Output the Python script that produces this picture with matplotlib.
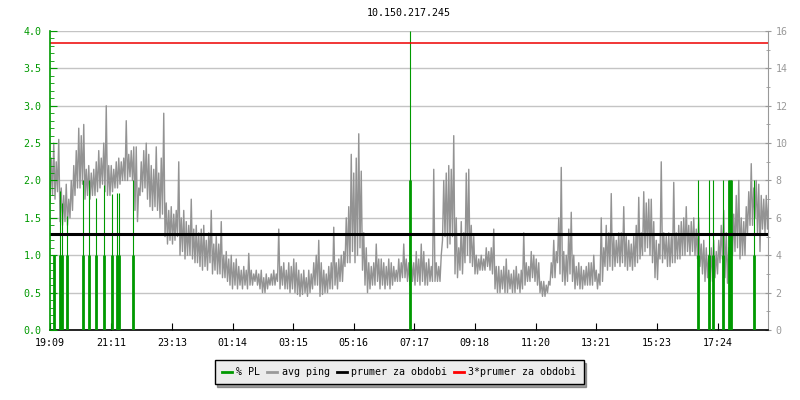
import numpy as np
import matplotlib.pyplot as plt
from matplotlib.lines import Line2D

# data
title = "10.150.217.245"
tick_minutes = [0, 122, 244, 365, 486, 607, 728, 849, 971, 1092, 1214, 1335]
tick_labels = ["19:09", "21:11", "23:13", "01:14", "03:15", "05:16",
               "07:17", "09:18", "11:20", "13:21", "15:23", "17:24"]

ping_lo = [
    6.8, 7.2, 7.0, 7.4, 5.8, 5.6, 5.8, 5.6, 6.0, 6.4, 7.2, 7.6,
    7.6, 7.8, 7.0, 7.2, 7.0, 7.2, 7.2, 7.4, 7.6, 7.8, 7.4, 7.2,
    7.2, 7.4, 7.6, 7.6, 7.8, 8.0, 8.0, 8.0, 8.2, 8.0, 6.4, 5.8,
    7.2, 7.4, 7.6, 7.0, 6.6, 6.4, 6.6, 6.4, 6.0, 6.2, 5.0, 4.6,
    4.8, 4.6, 4.8, 5.0, 4.0, 4.2, 3.8, 4.0, 4.0, 3.8, 3.6, 3.6,
    3.4, 3.2, 3.4, 3.2, 3.6, 3.0, 3.2, 3.0, 3.0, 2.8, 2.8, 2.6,
    2.4, 2.2, 2.4, 2.2, 2.4, 2.2, 2.4, 2.2, 2.4, 2.4, 2.6, 2.4,
    2.2, 2.0, 2.0, 2.2, 2.4, 2.4, 2.4, 2.6, 2.2, 2.4, 2.2, 2.2,
    2.0, 2.2, 2.0, 1.9, 1.8, 1.9, 2.0, 1.8, 2.0, 2.2, 2.4, 2.4,
    1.8, 1.9, 2.0, 2.0, 2.2, 2.2, 2.4, 2.2, 2.6, 2.6, 3.4, 3.6,
    3.6, 4.2, 3.6, 4.0, 4.4, 3.2, 2.4, 2.0, 2.2, 2.4, 2.4, 2.6,
    2.2, 2.4, 2.2, 2.4, 2.2, 2.4, 2.6, 2.6, 2.6, 2.8, 2.8, 2.6,
    2.4, 2.6, 2.4, 2.6, 2.4, 2.6, 2.4, 2.4, 2.6, 2.6, 2.6, 2.6,
    2.6, 4.8, 5.0, 4.4, 4.6, 5.0, 3.0, 2.8, 3.2, 3.0, 3.6, 4.0,
    3.6, 3.4, 3.0, 3.0, 3.2, 3.2, 3.2, 3.4, 3.2, 3.0, 2.2, 2.0,
    2.0, 2.2, 2.0, 2.0, 2.2, 2.0, 2.0, 2.2, 2.0, 2.2, 2.4, 2.6,
    2.6, 2.8, 2.6, 2.4, 2.0, 1.8, 1.8, 2.0, 2.4, 2.8, 2.8, 3.6,
    3.0, 2.6, 2.4, 2.6, 3.0, 2.6, 2.2, 2.4, 2.2, 2.2, 2.4, 2.4,
    2.4, 2.4, 2.6, 2.2, 2.4, 2.6, 3.4, 3.2, 3.4, 3.2, 3.4, 3.6,
    3.4, 3.6, 3.4, 3.2, 3.4, 3.2, 3.4, 3.6, 3.8, 4.0, 4.2, 4.4,
    4.0, 3.6, 2.8, 2.7, 3.8, 3.6, 3.8, 3.4, 3.4, 3.6, 3.6, 3.8,
    3.8, 4.0, 4.0, 4.2, 4.0, 4.2, 4.0, 3.8, 3.4, 3.0, 2.6, 2.8,
    2.6, 2.6, 2.8, 3.0, 3.6, 3.8, 2.8, 2.5, 3.8, 4.0, 4.2, 4.4,
    3.8, 4.0, 4.0, 5.2, 5.6, 5.6, 6.0, 5.2, 4.2, 5.4, 5.2, 5.4,
]
ping_hi = [
    9.2, 10.0, 9.0, 10.2, 7.6, 7.2, 7.8, 7.0, 8.0, 8.8, 9.6, 10.8,
    10.4, 11.0, 8.6, 8.8, 8.4, 8.6, 9.0, 9.6, 9.2, 10.0, 12.0, 8.8,
    8.8, 8.6, 9.0, 9.2, 9.0, 9.2, 11.2, 9.4, 9.6, 9.8, 9.8, 7.6,
    9.0, 9.6, 10.0, 9.4, 8.8, 8.6, 9.8, 8.4, 9.2, 11.6, 6.8, 6.4,
    6.6, 6.2, 6.4, 9.0, 6.0, 6.4, 5.8, 5.6, 7.0, 5.4, 5.6, 5.2,
    5.4, 5.6, 4.8, 5.2, 6.4, 4.6, 5.0, 4.6, 5.8, 4.0, 4.2, 3.8,
    4.0, 3.6, 3.8, 3.4, 3.2, 3.4, 3.2, 4.1, 3.2, 3.0, 3.2, 3.0,
    3.2, 2.8, 3.0, 2.8, 3.0, 3.2, 3.0, 5.4, 3.4, 3.6, 3.2, 3.6,
    3.4, 3.8, 3.6, 3.2, 3.0, 3.2, 2.8, 3.2, 3.0, 3.6, 4.0, 4.8,
    3.6, 3.2, 3.0, 3.4, 3.6, 5.5, 3.6, 3.8, 4.0, 4.2, 6.0, 6.6,
    9.4, 8.4, 9.2, 10.5, 8.5, 5.2, 4.4, 3.6, 3.4, 3.6, 4.6, 3.8,
    3.8, 3.6, 3.4, 3.8, 3.6, 3.4, 3.2, 3.8, 3.6, 4.6, 3.8, 3.6,
    3.8, 3.6, 4.2, 3.8, 4.6, 4.2, 3.6, 3.8, 3.4, 8.6, 3.6, 3.4,
    4.0, 8.0, 8.4, 8.8, 8.6, 10.4, 6.0, 4.4, 5.8, 5.2, 8.4, 8.6,
    5.6, 5.0, 4.0, 3.8, 4.0, 3.8, 4.4, 4.2, 4.4, 5.4, 3.4, 3.4,
    3.2, 3.4, 3.8, 3.2, 3.0, 3.2, 3.4, 3.0, 3.2, 5.2, 3.6, 3.4,
    4.2, 4.0, 3.8, 3.6, 2.6, 2.6, 2.4, 2.6, 3.6, 4.8, 4.2, 6.0,
    8.7, 4.2, 4.0, 5.4, 6.3, 4.0, 3.4, 3.6, 3.4, 3.2, 3.4, 3.6,
    3.6, 4.0, 3.2, 3.0, 6.0, 4.4, 5.6, 5.2, 7.3, 5.0, 4.8, 5.2,
    5.2, 6.6, 5.0, 4.8, 4.6, 5.0, 5.6, 7.1, 5.2, 7.4, 6.8, 7.0,
    7.0, 5.8, 4.8, 4.6, 9.0, 5.2, 5.0, 5.2, 5.0, 7.9, 5.2, 5.6,
    5.8, 6.0, 6.6, 5.6, 5.8, 6.0, 5.4, 6.0, 4.6, 4.8, 4.4, 4.0,
    4.4, 4.8, 4.2, 4.8, 5.6, 6.4, 5.2, 4.4, 5.4, 6.2, 7.2, 8.0,
    6.0, 5.8, 6.6, 7.4, 8.9, 7.6, 8.0, 7.8, 7.2, 7.0, 7.2, 7.0,
]
slot_minutes = np.arange(len(ping_lo)) * 5
# each slot: low sample at slot start, high sample 2.5 min later
ping_minutes = np.column_stack((slot_minutes, slot_minutes + 2.5)).ravel()
ping = np.column_stack((ping_lo, ping_hi)).ravel()

# packet loss events [%]: minute, peak, base part
pl_minutes = [8, 19, 24, 34, 66, 78, 92, 107, 123, 134, 137, 166,
              720, 1296, 1317, 1325, 1346, 1358, 1362, 1408]
pl_peak = [1.0, 1.86, 1.7, 1.52, 2.0, 2.0, 1.76, 1.94, 1.82, 1.83, 1.83, 2.0,
           4.0, 2.0, 2.0, 2.0, 2.0, 2.0, 2.0, 2.0]
pl_base = [1.0, 1.0, 1.0, 1.0, 1.0, 1.0, 1.0, 1.0, 1.0, 1.0, 1.0, 1.0,
           2.0, 1.0, 1.0, 1.0, 1.0, 2.0, 2.0, 1.0]

mean_ping = 5.12
mean3_ping = 3 * mean_ping

green = "#009900"
gray = "#999999"
mono = "DejaVu Sans Mono"
fs = 7.2

fig = plt.figure(figsize=(8, 4), dpi=100)
axp = fig.add_axes([50 / 800, 70 / 400, 718 / 800, 299 / 400])
axl = axp.twinx()

ping_top = 16
pl_top = 4
ratio = pl_top / ping_top

# ping axis (right)
axp.plot(ping_minutes, ping, color="#939393", lw=1.0, zorder=2)
axp.set_ylim(0, ping_top)
axp.set_xlim(0, 1436)
axp.yaxis.tick_right()
axp.set_yticks(range(0, 17, 2))
axp.set_yticks(range(0, 17, 1), minor=True)
axp.grid(axis="y", color="#c4c4c4", lw=1.0, zorder=0)
axp.tick_params(axis="y", which="both", colors=gray, direction="inout",
                labelsize=fs, length=5, pad=3)
axp.tick_params(axis="y", which="minor", length=3)
for lab in axp.get_yticklabels():
    lab.set_fontfamily(mono)
axp.set_xticks(tick_minutes)
axp.set_xticklabels(tick_labels, fontfamily=mono, fontsize=fs)
axp.tick_params(axis="x", direction="in", length=5, pad=6, color="black")
axp.spines["right"].set_color(gray)
axp.spines["left"].set_visible(False)
axp.spines["top"].set_visible(False)
axp.spines["bottom"].set_color("black")
axp.spines["bottom"].set_linewidth(1.2)

# packet loss axis (left)
axl.vlines(pl_minutes, 0, pl_peak, color=green, lw=0.8)
axl.vlines(pl_minutes, 0, pl_base, color=green, lw=2.0)
axl.axhline(mean_ping * ratio, color="black", lw=2.2)
axl.axhline(mean3_ping * ratio, color="#ee0000", lw=1.1)
axl.set_ylim(0, pl_top)
axl.yaxis.tick_left()
axl.set_yticks(np.arange(0, 4.01, 0.5))
axl.set_yticks(np.arange(0, 4.01, 0.1), minor=True)
axl.set_yticklabels([f"{v:.1f}" for v in np.arange(0, 4.01, 0.5)],
                    fontfamily=mono, fontsize=fs)
axl.tick_params(axis="y", which="both", colors=green, direction="in",
                length=5, pad=6)
axl.tick_params(axis="y", which="minor", length=3)
axl.spines["left"].set_color(green)
axl.spines["left"].set_linewidth(1.2)
axl.spines["right"].set_visible(False)
axl.spines["top"].set_visible(False)
axl.spines["bottom"].set_visible(False)

fig.text(409 / 800, 1 - 13 / 400, title, ha="center", va="center",
         fontfamily=mono, fontsize=fs)

handles = [Line2D([], [], color=green, lw=2),
           Line2D([], [], color=gray, lw=2),
           Line2D([], [], color="black", lw=2),
           Line2D([], [], color="red", lw=2)]
labels = ["% PL", "avg ping", "prumer za obdobi", "3*prumer za obdobi"]
leg = fig.legend(handles, labels, loc="center", bbox_to_anchor=(399 / 800, 1 - 372 / 400),
                 ncol=4, fancybox=False, shadow=True, facecolor="#ececec",
                 edgecolor="black", framealpha=1, handlelength=1.0,
                 handletextpad=0.45, columnspacing=0.7, borderpad=0.7,
                 prop={"family": mono, "size": fs})
leg.get_frame().set_linewidth(1.0)

fig.savefig("out.png", dpi=100)
